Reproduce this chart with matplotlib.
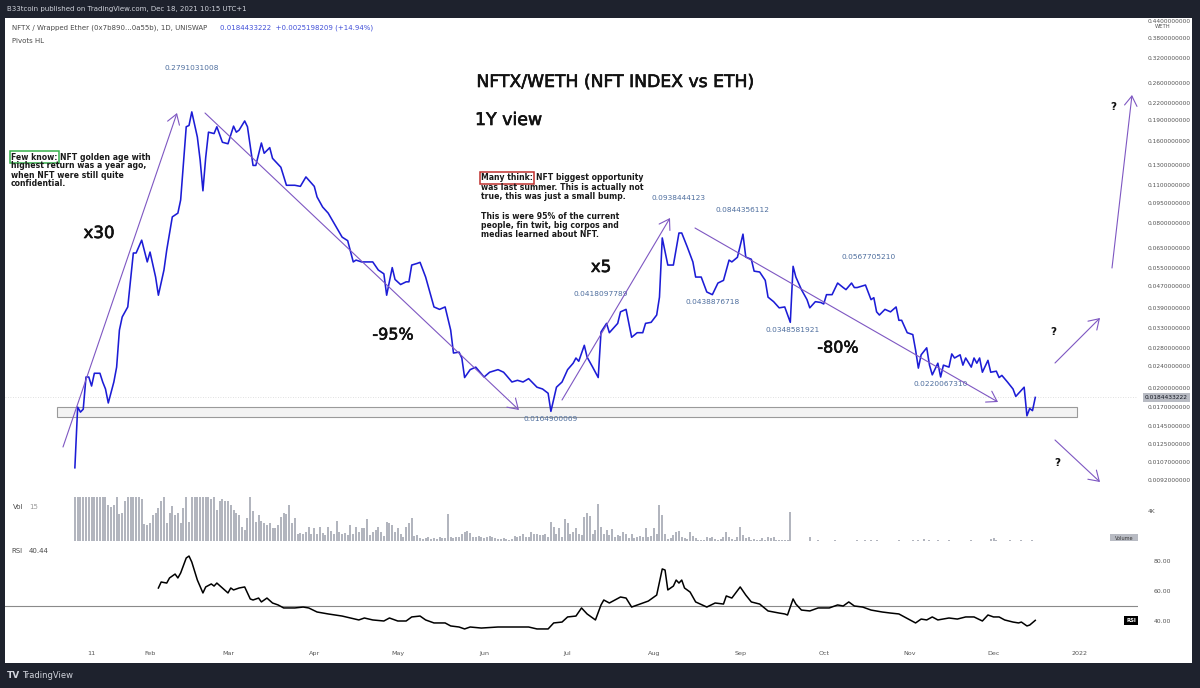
import datetime as dt

import matplotlib
matplotlib.use("Agg")
import matplotlib.dates as mdates
import matplotlib.patheffects as pe
import matplotlib.pyplot as plt
import numpy as np
from matplotlib.patches import FancyArrowPatch, Rectangle
from matplotlib.ticker import NullLocator

plt.rcParams['font.family'] = ['DejaVu Sans']

# ---- data (day 0 = 1 Jan 2021) ----
price_days = [
    4, 5, 6, 7, 8, 9, 10, 11, 13, 14, 15, 16, 18, 19, 20, 21, 23, 25, 26, 28, 30,
    31, 33, 34, 36, 37, 39, 41, 42, 44, 45, 46, 48, 49, 50, 51, 52, 54, 55, 57, 59,
    61, 62, 63, 65, 66, 68, 69, 71, 72, 74, 75, 78, 80, 83, 85, 87, 90,
    91, 93, 95, 98, 100, 102, 104, 105, 107, 111, 113, 115, 116, 118, 119,
    121, 123, 124, 125, 127, 128, 130, 133, 135, 137, 139, 140, 142, 143, 144, 146, 148,
    151, 153, 156, 158, 159, 161, 163, 165, 167, 170, 172, 174, 175, 177, 179,
    181, 183, 184, 185, 187, 188, 190, 192, 193, 195, 196, 199, 200, 202, 203, 204, 206, 208, 209,
    211, 213, 214, 215, 217, 219, 221, 222, 224, 226, 227, 229, 231, 233, 235, 237, 239, 240,
    242, 244, 245, 247, 248, 250, 252, 253, 255, 257, 259, 261, 262, 263, 265, 267, 268, 270,
    272, 273, 274, 276, 278, 280, 281, 283, 284, 285, 288, 290, 291, 292, 293, 295, 297, 299, 300,
    301, 303, 305, 306, 307, 308, 310, 311, 312, 314, 315, 316, 318, 319, 320, 322, 323, 324, 326,
    327, 328, 329, 330, 332, 333, 335, 336, 337, 339, 341, 342, 345, 346, 347, 348, 349,
]
price_close = [
    0.0102, 0.0170, 0.0163, 0.0167, 0.0219, 0.0219, 0.0203, 0.0226, 0.0226, 0.0210, 0.0198,
    0.0176, 0.0210, 0.0238, 0.0325, 0.0363, 0.0395, 0.0622, 0.0622, 0.0693, 0.0577,
    0.0627, 0.0508, 0.0436, 0.0539, 0.0638, 0.0843, 0.0870, 0.0972, 0.180, 0.182, 0.204,
    0.165, 0.136, 0.105, 0.139, 0.172, 0.170, 0.180, 0.158, 0.156,
    0.181, 0.172, 0.175, 0.189, 0.180, 0.130, 0.130, 0.157, 0.144, 0.151, 0.138, 0.128,
    0.110, 0.110, 0.109, 0.118, 0.109,
    0.0997, 0.0916, 0.0870, 0.0770, 0.0711, 0.0690, 0.0577, 0.0586, 0.0577, 0.0577, 0.0539,
    0.0522, 0.0436, 0.0550, 0.0498,
    0.0477, 0.0488, 0.0488, 0.0562, 0.0570, 0.0575, 0.0508, 0.0395, 0.0387, 0.0395, 0.0325,
    0.0268, 0.0270, 0.0257, 0.0218, 0.0233, 0.0238,
    0.0219, 0.0228, 0.0233, 0.0228, 0.0222, 0.0210, 0.0213, 0.0210, 0.0216, 0.0201, 0.0198,
    0.0191, 0.0164, 0.0201, 0.0210,
    0.0233, 0.0246, 0.0257, 0.0250, 0.0286, 0.0259, 0.0238, 0.0218, 0.0320, 0.0344, 0.0318,
    0.0344, 0.0379, 0.0387, 0.0344, 0.0306, 0.0318, 0.0318, 0.0344,
    0.0347, 0.0369, 0.0429, 0.0706, 0.0562, 0.0562, 0.0736, 0.0736, 0.0654, 0.0577, 0.0508,
    0.0508, 0.0448, 0.0438, 0.0483, 0.0494, 0.0586, 0.0577,
    0.0600, 0.0729, 0.0601, 0.0590, 0.0534, 0.0530, 0.0494, 0.0429, 0.0413, 0.0392, 0.0395,
    0.0347, 0.0556, 0.0508, 0.0457, 0.0420, 0.0392, 0.0413,
    0.0410, 0.0405, 0.0438, 0.0438, 0.0483, 0.0465, 0.0457, 0.0483, 0.0465, 0.0465, 0.0475,
    0.0420, 0.0427, 0.0379, 0.0369, 0.0387, 0.0379, 0.0395, 0.0353,
    0.0353, 0.0318, 0.0313, 0.0275, 0.0236, 0.0264, 0.0280, 0.0242, 0.0223, 0.0246, 0.0219,
    0.0242, 0.0238, 0.0266, 0.0257, 0.0264, 0.0242, 0.0257, 0.0238,
    0.0257, 0.0246, 0.0257, 0.0228, 0.0252, 0.0228, 0.0230, 0.0218, 0.0222, 0.0210, 0.0198,
    0.0186, 0.0201, 0.0158, 0.0168, 0.0165, 0.0184433222,
]

vol_start_day = 4
volume_k = [
    6.5, 6.5, 6.5, 6.5, 6.5, 6.5, 6.5, 6.5, 6.5, 6.5,
    6.5, 6.5, 4.8, 4.6, 4.9, 6.5, 3.6, 3.8, 5.4, 6.5,
    6.5, 6.5, 6.5, 6.5, 5.6, 2.3, 2.2, 2.4, 3.5, 3.8,
    4.5, 5.4, 6.5, 2.4, 3.8, 4.7, 3.5, 3.8, 2.4, 4.5,
    6.5, 2.6, 6.5, 6.5, 6.5, 6.5, 6.5, 6.5, 6.5, 5.6,
    6.5, 4.2, 5.4, 5.6, 5.4, 5.4, 4.9, 4.2, 3.8, 3.5,
    1.9, 1.5, 3.1, 6.5, 4.1, 2.5, 3.5, 2.7, 2.4, 2.2,
    2.4, 1.7, 1.8, 2.2, 3.3, 3.8, 3.7, 4.8, 2.4, 3.1,
    1.0, 1.1, 0.9, 1.2, 1.9, 1.0, 1.8, 0.9, 1.9, 1.1,
    0.8, 1.9, 1.4, 0.9, 2.7, 1.2, 1.0, 1.1, 0.8, 2.2,
    1.0, 1.9, 1.2, 1.7, 1.7, 2.9, 0.8, 1.2, 1.5, 1.9,
    1.2, 0.7, 2.6, 2.4, 2.2, 1.2, 1.7, 1.0, 0.6, 1.9,
    2.4, 3.1, 0.7, 0.8, 0.4, 0.3, 0.4, 0.5, 0.3, 0.4,
    0.3, 0.5, 0.4, 0.4, 3.7, 0.5, 0.4, 0.6, 0.5, 1.0,
    1.2, 1.4, 1.1, 0.6, 0.5, 0.7, 0.6, 0.4, 0.5, 0.7,
    0.6, 0.4, 0.3, 0.3, 0.4, 0.3, 0.2, 0.3, 0.7, 0.6,
    0.7, 1.0, 0.5, 0.6, 1.15, 1.0, 0.9, 0.8, 0.8, 1.0,
    0.6, 2.5, 1.9, 1.0, 1.7, 0.6, 2.9, 2.4, 1.0, 1.2,
    1.7, 1.0, 0.8, 3.2, 3.8, 3.4, 1.0, 1.5, 5.0, 1.9,
    1.0, 1.5, 0.8, 1.6, 0.6, 0.8, 0.7, 1.2, 1.0, 0.4,
    1.0, 0.4, 0.6, 0.7, 0.5, 1.7, 0.6, 0.7, 1.7, 1.0,
    4.8, 3.5, 1.0, 0.3, 0.4, 0.8, 1.2, 1.3, 0.6, 0.4,
    0.3, 1.2, 0.7, 0.4, 0.2, 0.2, 0.2, 0.6, 0.4, 0.6,
    0.3, 0.2, 0.3, 0.6, 1.2, 0.6, 0.3, 0.2, 0.6, 1.9,
    0.8, 0.4, 0.6, 0.2, 0.3, 0.2, 0.2, 0.4, 0.2, 0.6,
    0.4, 0.6, 0.15, 0.2, 0.15, 0.1, 0.15, 3.9, 0.05, 0.05,
    0.05, 0.05, 0.05, 0.05, 0.5, 0.05, 0.05, 0.1, 0.05, 0.05,
    0.05, 0.05, 0.05, 0.2, 0.05, 0.05, 0.05, 0.05, 0.05, 0.05,
    0.05, 0.2, 0.05, 0.05, 0.2, 0.05, 0.15, 0.05, 0.2, 0.05,
    0.05, 0.05, 0.05, 0.05, 0.05, 0.05, 0.1, 0.05, 0.05, 0.05,
    0.05, 0.15, 0.05, 0.2, 0.05, 0.25, 0.05, 0.1, 0.05, 0.05,
    0.15, 0.05, 0.05, 0.05, 0.1, 0.05, 0.05, 0.05, 0.05, 0.05,
    0.05, 0.05, 0.1, 0.05, 0.05, 0.05, 0.05, 0.05, 0.05, 0.3,
    0.35, 0.2, 0.05, 0.05, 0.05, 0.05, 0.1, 0.05, 0.05, 0.05,
    0.1, 0.05, 0.05, 0.05, 0.1, 0.05,
]

rsi_days = [
    34, 35, 37, 38, 40, 41, 42, 44, 45, 46, 48, 50, 51, 53, 54, 55, 57, 59, 60, 61, 63, 65,
    67, 68, 70, 71, 73, 75, 77, 79, 83, 86, 88, 91, 95, 100, 103, 106, 108, 111, 115, 117,
    120, 123, 125, 128, 130, 133, 137, 139, 142, 144, 146, 150, 156, 161, 167, 170, 174, 176,
    179, 181, 184, 186, 188, 191, 193, 194, 196, 200, 202, 204, 207, 210, 213, 215, 216, 217,
    219, 220, 221, 222, 223, 225, 227, 231, 234, 237, 238, 240, 243, 245, 247, 250, 253, 257,
    259, 260, 262, 263, 265, 268, 271, 275, 278, 280, 282, 284, 287, 290, 294, 297, 300, 304,
    306, 308, 310, 312, 314, 318, 321, 324, 327, 330, 332, 334, 336, 338, 341, 343, 344, 346,
    347, 349,
]
rsi_values = [
    62.0, 66.0, 65.3, 68.7, 71.3, 68.7, 72.0, 82.0, 83.3, 79.3, 67.3, 58.7, 62.7, 64.7, 63.3,
    65.3, 62.0, 58.7, 62.0, 60.7, 62.0, 62.7,
    54.7, 54.0, 55.3, 52.7, 55.3, 52.0, 50.7, 48.7, 48.7, 49.3, 48.7, 46.0, 44.7, 43.3, 42.0,
    40.7, 42.0, 40.7, 40.0, 42.0,
    40.0, 40.0, 42.7, 43.3, 40.7, 38.7, 38.7, 36.7, 36.0, 34.7, 36.0, 35.3, 36.0, 36.0, 36.0,
    34.7, 34.7, 38.7,
    39.3, 42.7, 43.3, 48.7, 44.7, 40.7, 50.7, 54.0, 52.0, 56.0, 55.3, 49.3, 51.3, 53.3, 57.3,
    74.7, 74.0, 60.7,
    63.3, 67.3, 65.3, 67.3, 62.0, 59.3, 52.7, 49.3, 52.0, 51.3, 56.7, 55.3, 62.7, 57.3, 52.7,
    51.3, 46.7, 45.3,
    44.7, 44.0, 54.7, 51.3, 47.3, 46.7, 48.7, 48.7, 50.7, 50.0, 52.7, 50.0, 49.3, 47.3, 46.0,
    45.3, 44.7, 40.7,
    38.7, 41.3, 40.7, 42.7, 40.7, 42.0, 41.3, 42.7, 42.7, 40.0, 44.0, 42.7, 42.7, 40.7, 39.3,
    38.7, 39.3, 36.7,
    37.3, 40.44,
]

pivot_days = [46, 175, 193, 221, 233, 244, 262, 289, 315]
pivot_values = [0.2791031008, 0.0164900069, 0.0418097789, 0.0938444123, 0.0438876718,
                0.0844356112, 0.0348581921, 0.0567705210, 0.0220067310]
pivot_is_high = [True, False, True, True, False, True, False, True, False]

price_ticks = [0.44, 0.38, 0.32, 0.26, 0.22, 0.19, 0.16, 0.13, 0.11, 0.095, 0.08, 0.065,
               0.055, 0.047, 0.039, 0.033, 0.028, 0.024, 0.02, 0.017, 0.0145, 0.0125,
               0.0107, 0.0092]
last_price = 0.0184433222
last_change = 0.0025198209
last_change_pct = 14.94
last_rsi = 40.44
rsi_ticks = [80, 60, 40]
month_ticks = ["2021-01-11", "2021-02-01", "2021-03-01", "2021-04-01", "2021-05-01",
               "2021-06-01", "2021-07-01", "2021-08-01", "2021-09-01", "2021-10-01",
               "2021-11-01", "2021-12-01", "2022-01-01"]
month_labels = ["11", "Feb", "Mar", "Apr", "May", "Jun", "Jul", "Aug", "Sep", "Oct",
                "Nov", "Dec", "2022"]

# ---- layout helpers (pixel -> figure fraction) ----
W, H = 1200, 688
DARK = '#1e222d'
PURPLE = '#7e57c2'
GREY_TXT = '#555555'


def box(x0, y0, x1, y1):
    return [x0 / W, 1 - y1 / H, (x1 - x0) / W, (y1 - y0) / H]


def at(x, y):
    return (x / W, 1 - y / H)


fig = plt.figure(figsize=(W / 100, H / 100), dpi=100, facecolor=DARK)

fig.add_artist(Rectangle(at(5, 663), (1192 - 5) / W, (663 - 18) / H,
                         transform=fig.transFigure, facecolor='white',
                         edgecolor='none', zorder=-1))

base = mdates.date2num(dt.datetime(2021, 1, 1))
x_lo, x_hi = base - 21.1, base + 385.9


def clean(a):
    a.set_facecolor('none')
    a.set_xlim(x_lo, x_hi)
    for s in a.spines.values():
        s.set_visible(False)


# ---- price pane ----
ax = fig.add_axes(box(5, 18, 1138, 490))
clean(ax)
ax.set_yscale('log')
ax.set_ylim(0.00846, 0.4497)
ax.add_patch(Rectangle((base - 2.4, 0.0156), 366.4, 0.0170 - 0.0156,
                       facecolor='#f3f3f3', edgecolor='#9a9a9a', lw=0.8, zorder=1))
ax.axhline(last_price, color='#d6d6d6', lw=0.6, ls=(0, (1, 2)), zorder=1)
ax.plot(base + np.array(price_days), price_close, color='#1c1cd6', lw=1.15,
        zorder=3, solid_joinstyle='round')
ax.yaxis.tick_right()
ax.set_yticks(price_ticks)
ax.set_yticklabels([f"{v:.10f}" for v in price_ticks])
ax.yaxis.set_minor_locator(NullLocator())
ax.tick_params(axis='y', length=0, pad=7, labelsize=4.2, labelcolor=GREY_TXT)
ax.set_xticks([])
ax.annotate(f"{last_price:.10f}", xy=(1, last_price), xycoords=('axes fraction', 'data'),
            xytext=(5, 0), textcoords='offset points', ha='left', va='center',
            fontsize=4.2, color='#131722',
            bbox=dict(boxstyle='square,pad=0.35', fc='#b8bbc3', ec='none'))

for d, v, hi in zip(pivot_days, pivot_values, pivot_is_high):
    ax.annotate(f"{v:.10f}", (base + d, v), xytext=(0, 2.5 if hi else -3.5),
                textcoords='offset points', ha='center', va='bottom' if hi else 'top',
                fontsize=5.3, color='#4e6e9e')

# ---- volume pane ----
axv = fig.add_axes(box(5, 497, 1138, 541))
clean(axv)
axv.bar(base + vol_start_day + np.arange(len(volume_k)), volume_k, width=0.72,
        color='#b2b5be', lw=0)
axv.set_ylim(0, 5.93)
axv.yaxis.tick_right()
axv.set_yticks([4])
axv.set_yticklabels(['4K'])
axv.tick_params(axis='y', length=0, pad=7, labelsize=4.2, labelcolor=GREY_TXT)
axv.set_xticks([])

# ---- RSI pane ----
axr = fig.add_axes(box(5, 545, 1138, 648))
clean(axr)
axr.axhline(50, color='#8a8a8a', lw=0.8)
axr.plot(base + np.array(rsi_days), rsi_values, color='black', lw=1.1)
axr.set_ylim(22, 90.67)
axr.yaxis.tick_right()
axr.set_yticks(rsi_ticks)
axr.set_yticklabels([f"{v:.2f}" for v in rsi_ticks])
axr.tick_params(axis='y', length=0, pad=11, labelsize=4.4, labelcolor=GREY_TXT)
axr.set_xticks([mdates.date2num(dt.datetime.fromisoformat(d)) for d in month_ticks])
axr.set_xticklabels(month_labels)
axr.tick_params(axis='x', length=0, pad=2.5, labelsize=4.6, labelcolor=GREY_TXT)
axr.annotate("RSI", xy=(1, last_rsi), xycoords=('axes fraction', 'data'),
             xytext=(-1.5, 0), textcoords='offset points', ha='right', va='center',
             fontsize=3.8, color='white', fontweight='bold',
             bbox=dict(boxstyle='square,pad=0.4', fc='black', ec='none'))


def txt(x, y, s, **kw):
    kw.setdefault('va', 'center')
    kw.setdefault('ha', 'left')
    return fig.text(*at(x, y), s, **kw)


# ---- frame texts ----
txt(7, 9, "B33tcoin published on TradingView.com, Dec 18, 2021 10:15 UTC+1",
    fontsize=5, color='#d1d4dc')
txt(12, 28, "NFTX / Wrapped Ether (0x7b890...0a55b), 1D, UNISWAP", fontsize=5, color='#4a4a4a')
txt(220, 28, f"{last_price:.10f}  +{last_change:.10f} (+{last_change_pct:.2f}%)",
    fontsize=5, color='#4150d8')
txt(12, 41, "Pivots HL", fontsize=5, color='#4a4a4a')
txt(1163, 27, "WETH", fontsize=3.8, color=GREY_TXT, ha='center')
txt(13, 507, "Vol", fontsize=5, color='#4a4a4a')
txt(29, 507, "15", fontsize=5, color='#9a9a9a')
txt(11, 551, "RSI", fontsize=5, color='#4a4a4a')
txt(29, 551, f"{last_rsi:.2f}", fontsize=5, color='#4a4a4a')
fig.add_artist(Rectangle(at(1110, 541), 28 / W, 7 / H, transform=fig.transFigure,
                         facecolor='#b8bbc3', edgecolor='none'))
txt(1124, 539, "Volume", fontsize=3.6, color='#333333', ha='center')
txt(7, 676, "TV", fontsize=6.5, color='#d1d4dc', fontweight='bold')
txt(22, 676, "TradingView", fontsize=6, color='#d1d4dc')

# ---- chart drawings ----
thick = [pe.withStroke(linewidth=0.45, foreground='#111111')]
big = dict(color='#111111', path_effects=thick)
txt(616, 82, "NFTX/WETH (NFT INDEX vs ETH)", fontsize=12.4, ha='center', **big)
txt(475, 120, "1Y view", fontsize=12.5, **big)
txt(99, 233, "x30", fontsize=12, ha='center', **big)
txt(393, 335, "-95%", fontsize=11.5, ha='center', **big)
txt(601, 267, "x5", fontsize=12, ha='center', **big)
txt(838, 348, "-80%", fontsize=11.5, ha='center', **big)
for qx, qy in [(1053, 332), (1057, 463), (1113, 107)]:
    txt(qx, qy, "?", fontsize=7.5, color='#111111', ha='center', fontweight='bold')

for (x0, y0), (x1, y1) in [((63, 447), (177, 113)), ((205, 113), (519, 410)),
                           ((562, 400), (670, 218)), ((695, 228), (998, 402)),
                           ((1055, 363), (1100, 318)), ((1055, 440), (1100, 482)),
                           ((1112, 268), (1132, 95))]:
    fig.add_artist(FancyArrowPatch(at(x0, y0), at(x1, y1), transform=fig.transFigure,
                                   arrowstyle='->,head_length=0.7,head_width=0.45',
                                   mutation_scale=10, color=PURPLE, lw=0.8,
                                   shrinkA=0, shrinkB=0, zorder=4))

para = dict(fontsize=5.55, fontweight='bold', color='#1a1a1a')


def note(x, y, key, key_color, first, rest):
    k = txt(x, y, key, bbox=dict(boxstyle='square,pad=0.18', fc='none', ec=key_color,
                                 lw=1.1), **para)
    ax.annotate(first, xy=(1, 0.5), xycoords=k, xytext=(2.2, 0),
                textcoords='offset points', ha='left', va='center',
                annotation_clip=False, **para)
    for ly, line in rest:
        txt(x, ly, line, **para)


note(11, 157, "Few know:", '#35b04a', "NFT golden age with",
     [(166, "highest return was a year ago,"), (175, "when NFT were still quite"),
      (183.5, "confidential.")])
note(481, 178, "Many think:", '#c0302e', "NFT biggest opportunity",
     [(187.5, "was last summer. This is actually not"),
      (197, "true, this was just a small bump."),
      (216.5, "This is were 95% of the current"),
      (225.5, "people, fin twit, big corpos and"),
      (234.5, "medias learned about NFT.")])

fig.savefig("out.png", dpi=100, facecolor=DARK)
